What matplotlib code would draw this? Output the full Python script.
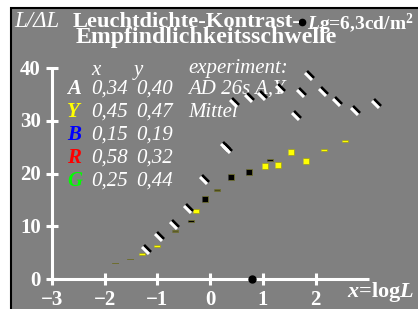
import numpy as np
import matplotlib
matplotlib.use("Agg")
import matplotlib.pyplot as plt
from matplotlib.patches import Rectangle
from matplotlib.transforms import offset_copy

plt.rcParams["font.family"] = ["Liberation Serif", "DejaVu Serif"]
plt.rcParams["mathtext.fontset"] = "custom"
plt.rcParams["mathtext.rm"] = "Liberation Serif:bold"
plt.rcParams["mathtext.it"] = "Liberation Serif:italic:bold"

# experiment points (striped markers)
exp_x = [-1.23, -0.99, -0.70, -0.44, -0.13, 0.26, 0.30, 0.44, 0.72, 0.97,
         1.31, 1.61, 1.71, 1.86, 2.13, 2.39, 2.73, 3.13]
exp_y = [5.5, 8.0, 10.2, 13.3, 18.8, 25.0, 24.7, 33.4, 34.3, 34.7,
         36.0, 30.9, 35.3, 38.5, 35.5, 33.6, 31.9, 33.2]

# yellow series
yel_x = [-1.29, -1.00, -0.27, 1.04, 1.29, 1.54, 1.82, 2.16, 2.56]
yel_y = [4.7, 6.3, 12.9, 21.4, 21.6, 24.1, 22.4, 24.5, 26.2]
yel_h = [2, 2, 5, 7, 7, 7, 7, 3, 2]

# black series
blk_x = [-1.80, -1.52, -0.66, -0.36, -0.09, 0.13, 0.40, 0.74, 1.14]
blk_y = [3.0, 3.8, 9.1, 11.0, 15.2, 16.9, 19.4, 20.3, 22.6]
blk_h = [1, 1, 2, 2, 6, 2, 6, 6, 2]
blk_c = ["#6e6e46", "#6e6e46", "#5a5a2a", "black", "black", "#4a4a1a",
         "black", "black", "black"]

xticks = [-3, -2, -1, 0, 1, 2]
yticks = [0, 10, 20, 30, 40]

legend_rows = [("A", "white", "0,34", "0,40", "AD 26s A,Y"),
               ("Y", "yellow", "0,45", "0,47", "Mittel"),
               ("B", "blue", "0,15", "0,19", ""),
               ("R", "red", "0,58", "0,32", ""),
               ("G", "#00ff00", "0,25", "0,44", "")]

W, H = 418, 309
fig = plt.figure(figsize=(W / 100, H / 100), dpi=100)
fig.patch.set_facecolor("white")

ax = fig.add_axes([0, 0, 1, 1])
ax.set_axis_off()
ax.patch.set_visible(False)
ax.add_patch(Rectangle((11 / W, -0.01), 1, (H - 8) / H + 0.01, transform=fig.transFigure,
                       facecolor="#808080", edgecolor="black", lw=1.5, zorder=0))
pxx, pxy = 52.7, 5.27
ax.set_xlim(-3 - 52 / pxx, -3 + (W - 52) / pxx)
ax.set_ylim(-(H - 279) / pxy, 279 / pxy)


def px(x, y):
    # pixel position from top-left -> data coords
    return (-3 + (x - 52) / pxx, (279 - y) / pxy)


# axes
ax.plot([-3, 3.02], [0, 0], color="white", lw=2.2, solid_capstyle="butt", zorder=2)
ax.plot([-3, -3], [0, 40.3], color="white", lw=2.2, solid_capstyle="butt", zorder=2)
ax.plot(xticks, [0] * len(xticks), ls="none", marker="|", ms=8, mew=2.2, color="white")
ax.plot([-3] * len(yticks), yticks, ls="none", marker="_", ms=8, mew=2.2, color="white")
for t in xticks:
    ax.text(t, px(0, 305)[1], str(t).replace("-", "\u2212"), ha="center", va="baseline",
            color="white", fontsize=15, fontweight="bold")
for t in yticks:
    ax.text(-3.21, t - 0.3, str(t), ha="right", va="center",
            color="white", fontsize=15, fontweight="bold")
ax.text(*px(347, 297), r"$x$=log$L$", color="white", fontsize=16,
        fontweight="bold", ha="left", va="baseline")

# data markers
bar = [(-1, 1), (1, -1)]
black_tr = offset_copy(ax.transData, fig=fig, x=1.8, y=1.8, units="dots")
ax.plot(exp_x, exp_y, ls="none", marker=bar, ms=5, mew=2.0, mec="black",
        transform=black_tr, zorder=4)
ax.plot(exp_x, exp_y, ls="none", marker=bar, ms=5, mew=2.2, mec="white", zorder=5)

for x, y, h in zip(yel_x, yel_y, yel_h):
    a = h / 7
    ax.plot(x, y, ls="none", marker=[(-1, -a), (1, -a), (1, a), (-1, a)],
            ms=5, mfc="yellow", mec="#a0a020", mew=0.6, zorder=3)
for x, y, h, c in zip(blk_x, blk_y, blk_h, blk_c):
    a = h / 7
    ax.plot(x, y, ls="none", marker=[(-1, -a), (1, -a), (1, a), (-1, a)],
            ms=5, mfc=c, mec="#6e6e30", mew=0.6, zorder=3)

ax.plot(0.8, 0, "o", color="black", ms=5, zorder=6)

# title
ax.text(*px(14, 27), "L/\u0394L", color="white", fontsize=16.5, style="italic")
ax.text(*px(73, 27), "Leuchtdichte-Kontrast-", color="white", fontsize=16.2,
        fontweight="bold")
ax.text(*px(76, 43), "Empfindlichkeitsschwelle", color="white", fontsize=17.2,
        fontweight="bold")
ax.plot(*px(302, 22), "o", color="black", ms=4.5)
ax.text(*px(307, 30), r"$L$g=6,3cd/m$^2$", color="white", fontsize=14,
        fontweight="bold")

# legend block
ax.text(*px(91, 75), "x", color="white", fontsize=15, style="italic")
ax.text(*px(134, 75), "y", color="white", fontsize=15, style="italic")
ax.text(*px(188, 73), "experiment:", color="white", fontsize=15, style="italic")
for i, (lab, col, xs, ys, note) in enumerate(legend_rows):
    yb = 94 + i * 23
    ax.text(*px(67, yb), lab, color=col, fontsize=15, style="italic", fontweight="bold")
    ax.text(*px(91, yb), xs, color="white", fontsize=15, style="italic")
    ax.text(*px(136, yb), ys, color="white", fontsize=15, style="italic")
    if note:
        ax.text(*px(188, yb), note, color="white", fontsize=15, style="italic")

fig.savefig("out.png", dpi=100)
